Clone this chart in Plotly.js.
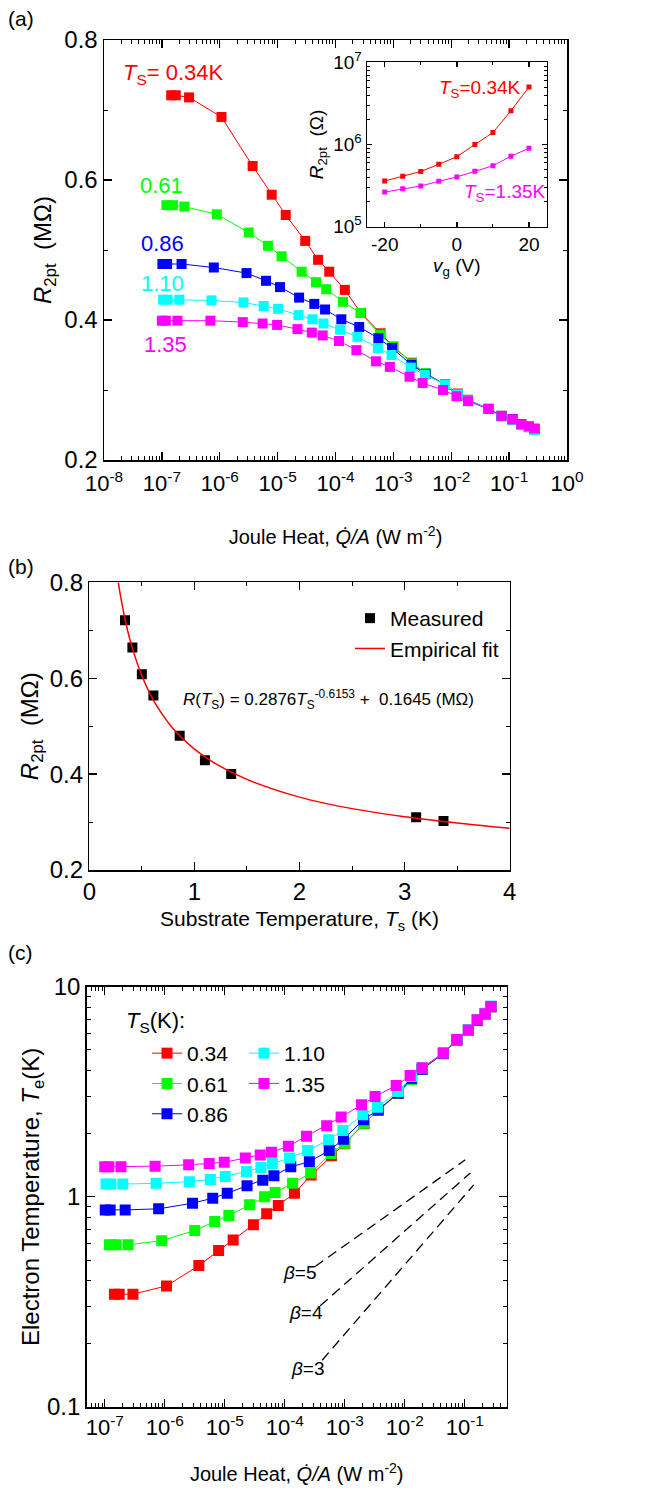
<!DOCTYPE html>
<html><head><meta charset="utf-8">
<script src="https://cdn.plot.ly/plotly-3.0.1.min.js"></script>
<style>html,body{margin:0;padding:0;background:#fff}#chart{width:653px;height:1490px}</style>
</head><body><div id="chart"></div>
<script>
// ---------- data ----------
const seriesLabels = ['0.34', '0.61', '0.86', '1.10', '1.35'];
const seriesColors = ['#ff0000', '#00ff00', '#0000ff', '#00ffff', '#ff00ff'];

// Joule heat Q/A (W m^-2) for each substrate temperature
const qRed = [1.45e-7, 1.74e-7, 2.95e-7, 1.07e-6, 3.7e-6, 7.9e-6, 1.38e-5, 3.0e-5, 5.0e-5, 7.8e-5, 1.45e-4, 2.75e-4, 6.0e-4, 1.0e-3, 2.1e-3, 3.6e-3, 7.8e-3, 1.3e-2, 1.95e-2, 4.4e-2, 7.4e-2, 0.115, 0.162, 0.219, 0.275];
const qGreen = [1.2e-7, 1.55e-7, 2.45e-7, 8.9e-7, 3.16e-6, 6.8e-6, 1.17e-5, 2.6e-5, 4.6e-5, 6.9e-5, 1.35e-4, 2.7e-4, 5.9e-4, 1.0e-3, 2.1e-3, 3.6e-3, 7.8e-3, 1.3e-2, 1.95e-2, 4.4e-2, 7.4e-2, 0.115, 0.162, 0.219, 0.275];
const qBlue = [1.02e-7, 1.23e-7, 2.19e-7, 7.9e-7, 2.9e-6, 6.3e-6, 1.1e-5, 2.35e-5, 4.3e-5, 6.6e-5, 1.26e-4, 2.57e-4, 5.5e-4, 9.5e-4, 2.05e-3, 3.6e-3, 7.8e-3, 1.3e-2, 1.95e-2, 4.4e-2, 7.4e-2, 0.115, 0.162, 0.219, 0.275];
const qCyan = [1.05e-7, 1.26e-7, 2.0e-7, 7.2e-7, 2.57e-6, 5.75e-6, 1.02e-5, 2.3e-5, 4.0e-5, 6.2e-5, 1.2e-4, 2.4e-4, 5.4e-4, 9.3e-4, 2.0e-3, 3.5e-3, 7.8e-3, 1.3e-2, 1.95e-2, 4.4e-2, 7.4e-2, 0.115, 0.162, 0.219, 0.275];
const qMagenta = [1.0e-7, 1.17e-7, 1.86e-7, 6.9e-7, 2.5e-6, 5.5e-6, 9.8e-6, 2.2e-5, 3.9e-5, 6.0e-5, 1.15e-4, 2.3e-4, 5.0e-4, 8.7e-4, 1.9e-3, 3.2e-3, 7.2e-3, 1.23e-2, 1.95e-2, 4.4e-2, 7.4e-2, 0.115, 0.162, 0.219, 0.275];

// (a) two-point resistance (MOhm)
const rRed = [0.721, 0.721, 0.718, 0.690, 0.620, 0.579, 0.550, 0.513, 0.486, 0.469, 0.443, 0.410, 0.381, 0.362, 0.339, 0.323, 0.308, 0.295, 0.286, 0.273, 0.263, 0.258, 0.251, 0.248, 0.244];
const rGreen = [0.564, 0.564, 0.562, 0.551, 0.525, 0.506, 0.491, 0.469, 0.454, 0.444, 0.426, 0.410, 0.379, 0.362, 0.338, 0.324, 0.308, 0.294, 0.286, 0.273, 0.263, 0.257, 0.251, 0.247, 0.244];
const rBlue = [0.480, 0.480, 0.480, 0.475, 0.467, 0.456, 0.447, 0.432, 0.423, 0.415, 0.401, 0.390, 0.374, 0.360, 0.336, 0.323, 0.308, 0.292, 0.285, 0.273, 0.263, 0.258, 0.251, 0.247, 0.244];
const rCyan = [0.429, 0.429, 0.429, 0.428, 0.425, 0.420, 0.416, 0.407, 0.401, 0.395, 0.386, 0.376, 0.360, 0.350, 0.332, 0.322, 0.308, 0.293, 0.285, 0.273, 0.262, 0.257, 0.250, 0.247, 0.243];
const rMagenta = [0.399, 0.399, 0.399, 0.399, 0.397, 0.395, 0.393, 0.387, 0.382, 0.378, 0.370, 0.357, 0.341, 0.333, 0.319, 0.310, 0.300, 0.291, 0.284, 0.273, 0.263, 0.258, 0.251, 0.248, 0.245];

// (c) electron temperature (K)
const teRed = [0.344, 0.344, 0.344, 0.377, 0.471, 0.555, 0.624, 0.736, 0.830, 0.910, 1.04, 1.27, 1.57, 1.79, 2.23, 2.58, 3.10, 3.62, 4.05, 4.80, 5.55, 6.20, 6.90, 7.40, 8.00];
const teGreen = [0.591, 0.591, 0.591, 0.619, 0.691, 0.763, 0.815, 0.916, 1.00, 1.05, 1.16, 1.30, 1.61, 1.80, 2.24, 2.58, 3.12, 3.62, 4.05, 4.82, 5.58, 6.22, 6.92, 7.42, 8.02];
const teBlue = [0.867, 0.867, 0.867, 0.877, 0.933, 0.985, 1.04, 1.13, 1.20, 1.26, 1.39, 1.47, 1.66, 1.88, 2.33, 2.59, 3.12, 3.67, 4.05, 4.82, 5.60, 6.25, 6.95, 7.45, 8.05];
const teCyan = [1.15, 1.15, 1.15, 1.16, 1.18, 1.21, 1.25, 1.32, 1.38, 1.44, 1.53, 1.66, 1.87, 2.07, 2.46, 2.67, 3.17, 3.74, 4.10, 4.85, 5.62, 6.25, 6.98, 7.48, 8.10];
const teMagenta = [1.39, 1.39, 1.39, 1.40, 1.42, 1.44, 1.46, 1.53, 1.58, 1.63, 1.74, 1.94, 2.18, 2.40, 2.74, 3.00, 3.39, 3.78, 4.12, 4.83, 5.60, 6.23, 6.96, 7.44, 8.05];

// (a) inset: R2pt (Ohm) vs gate voltage (V)
const vGate = [-20, -15, -10, -5, 0, 5, 10, 15, 20];
const rInset034 = [3.6e5, 4.1e5, 4.7e5, 5.75e5, 7.1e5, 1.0e6, 1.4e6, 2.57e6, 5.0e6];
const rInset135 = [2.64e5, 2.9e5, 3.13e5, 3.57e5, 4.03e5, 4.72e5, 5.5e5, 7.2e5, 9.0e5];

// (b) measured R vs substrate temperature, and the empirical fit curve
const tsMeasured = [0.34, 0.41, 0.50, 0.61, 0.86, 1.10, 1.35, 3.11, 3.37];
const rMeasured = [0.721, 0.664, 0.608, 0.564, 0.480, 0.429, 0.400, 0.310, 0.302];
const tsFit = [0.276, 0.30, 0.35, 0.40, 0.50, 0.60, 0.70, 0.80, 1.0, 1.2, 1.5, 2.0, 2.5, 3.0, 3.5, 4.0];
const rFit = [0.800, 0.768, 0.713, 0.670, 0.605, 0.558, 0.523, 0.494, 0.452, 0.422, 0.389, 0.352, 0.328, 0.311, 0.298, 0.287];

// (c) guide lines for beta = 5, 4, 3 (end points)
const betaLabels = ['β=5', 'β=4', 'β=3'];
const betaQ = [[3.2e-4, 0.102], [3.9e-4, 0.124], [4.2e-4, 0.141]];
const betaT = [[0.466, 1.50], [0.303, 1.30], [0.167, 1.14]];

// tick labels
const tickQa = [1e-8, 1e-7, 1e-6, 1e-5, 1e-4, 1e-3, 1e-2, 1e-1, 1];
const tickQaText = ['10<sup>-8</sup>', '10<sup>-7</sup>', '10<sup>-6</sup>', '10<sup>-5</sup>', '10<sup>-4</sup>', '10<sup>-3</sup>', '10<sup>-2</sup>', '10<sup>-1</sup>', '10<sup>0</sup>'];
const tickQc = [1e-7, 1e-6, 1e-5, 1e-4, 1e-3, 1e-2, 1e-1];
const tickQcText = ['10<sup>-7</sup>', '10<sup>-6</sup>', '10<sup>-5</sup>', '10<sup>-4</sup>', '10<sup>-3</sup>', '10<sup>-2</sup>', '10<sup>-1</sup>'];
const tickTe = [0.1, 1, 10];
const tickTeText = ['0.1', '1', '10'];
const tickInsetR = [1e5, 1e6, 1e7];
const tickInsetRText = ['10<sup>5</sup>', '10<sup>6</sup>', '10<sup>7</sup>'];

// ---------- figure ----------
const W = 653, H = 1490;
const F = 'Liberation Sans, Arial, sans-serif';
const px = (x) => x / W;
const py = (y) => 1 - y / H;

const qSets = [qRed, qGreen, qBlue, qCyan, qMagenta];
const rSets = [rRed, rGreen, rBlue, rCyan, rMagenta];
const teSets = [teRed, teGreen, teBlue, teCyan, teMagenta];

function logMinor(d0, d1) {
  const v = [];
  for (let d = d0; d < d1; d++) for (let k = 2; k < 10; k++) v.push(k * Math.pow(10, d));
  return v;
}

const traces = [];
for (let i = 0; i < 5; i++) {
  traces.push({
    x: qSets[i], y: rSets[i], xaxis: 'x', yaxis: 'y', type: 'scatter', mode: 'lines+markers',
    line: {color: seriesColors[i], width: 1}, marker: {symbol: 'square', size: 10, color: seriesColors[i]},
    showlegend: false, name: seriesLabels[i]
  });
}
traces.push({x: vGate, y: rInset034, xaxis: 'x4', yaxis: 'y4', type: 'scatter', mode: 'lines+markers',
  line: {color: '#ff0000', width: 1}, marker: {symbol: 'square', size: 5, color: '#ff0000'}, showlegend: false});
traces.push({x: vGate, y: rInset135, xaxis: 'x4', yaxis: 'y4', type: 'scatter', mode: 'lines+markers',
  line: {color: '#ff00ff', width: 1}, marker: {symbol: 'square', size: 5, color: '#ff00ff'}, showlegend: false});

traces.push({x: tsMeasured, y: rMeasured, xaxis: 'x2', yaxis: 'y2', type: 'scatter', mode: 'markers',
  marker: {symbol: 'square', size: 10, color: '#000'}, name: 'Measured', legend: 'legend'});
traces.push({x: tsFit, y: rFit, xaxis: 'x2', yaxis: 'y2', type: 'scatter', mode: 'lines',
  line: {color: '#ff0000', width: 1.5, shape: 'spline'}, name: 'Empirical fit', legend: 'legend'});

for (let i = 0; i < 5; i++) {
  traces.push({
    x: qSets[i], y: teSets[i], xaxis: 'x3', yaxis: 'y3', type: 'scatter', mode: 'lines+markers',
    line: {color: seriesColors[i], width: 1}, marker: {symbol: 'square', size: 11, color: seriesColors[i]},
    name: seriesLabels[i], legend: i < 3 ? 'legend2' : 'legend3'
  });
}
for (let i = 0; i < 3; i++) {
  traces.push({x: betaQ[i], y: betaT[i], xaxis: 'x3', yaxis: 'y3', type: 'scatter', mode: 'lines',
    line: {color: '#000', width: 1.3, dash: '10px,6px'}, showlegend: false});
}

const minorStyle = {ticks: 'inside', ticklen: 4, tickwidth: 1, tickcolor: '#000', showgrid: false};
function ax(extra) {
  return Object.assign({
    showline: true, linecolor: '#000', linewidth: 1.5, mirror: 'ticks', ticks: 'inside',
    ticklen: 8, tickwidth: 1.3, tickcolor: '#000', showgrid: false, zeroline: false,
    tickfont: {family: F, size: 24, color: '#000'}
  }, extra);
}
const NB = '\u00a0';

const layout = {
  width: W, height: H, margin: {l: 0, r: 0, t: 0, b: 0},
  paper_bgcolor: '#fff', plot_bgcolor: 'rgba(0,0,0,0)',
  font: {family: F, color: '#000'},
  // (a)
  xaxis: ax({domain: [px(104), px(567)], anchor: 'y', type: 'log', range: [-8, 0],
    tickmode: 'array', tickvals: tickQa, ticktext: tickQaText, tickfont: {family: F, size: 22, color: '#000'},
    ticklabelstandoff: 3,
    minor: Object.assign({tickmode: 'array', tickvals: logMinor(-8, 0)}, minorStyle),
    title: {text: 'Joule Heat, <i>Q\u0307/A</i> (W m<sup>-2</sup>)', font: {family: F, size: 20}, standoff: 35}}),
  yaxis: ax({domain: [py(460), py(40)], anchor: 'x', range: [0.2, 0.8], tickmode: 'linear', tick0: 0, dtick: 0.2,
    minor: Object.assign({dtick: 0.1, tick0: 0}, minorStyle),
    title: {text: '<i>R</i><sub>2pt</sub>' + NB + NB + '(MΩ)', font: {family: F, size: 24}, standoff: 6}}),
  // inset
  xaxis4: ax({domain: [px(366.7), px(547)], anchor: 'y4', range: [-25, 25], tickmode: 'array', tickvals: [-20, 0, 20],
    ticktext: ['-20', '0', '20'], ticklen: 5, tickfont: {family: F, size: 19, color: '#000'}, linewidth: 1.2,
    minor: Object.assign({tickmode: 'array', tickvals: [-10, 10]}, minorStyle, {ticklen: 3}),
    title: {text: '<i>v</i><sub>g</sub> (V)', font: {family: F, size: 19}, standoff: 4}}),
  yaxis4: ax({domain: [py(226.7), py(62.3)], anchor: 'x4', type: 'log', range: [5, 7], tickmode: 'array',
    tickvals: tickInsetR, ticktext: tickInsetRText, ticklen: 5, tickfont: {family: F, size: 19, color: '#000'}, linewidth: 1.2,
    minor: Object.assign({tickmode: 'array', tickvals: logMinor(5, 7)}, minorStyle, {ticklen: 3}),
    title: {text: '<i>R</i><sub>2pt</sub>' + NB + NB + '(Ω)', font: {family: F, size: 19}, standoff: 4}}),
  // (b)
  xaxis2: ax({domain: [px(89.3), px(509.7)], anchor: 'y2', range: [0, 4], tickmode: 'linear', tick0: 0, dtick: 1,
    minor: Object.assign({dtick: 0.5, tick0: 0}, minorStyle),
    title: {text: 'Substrate Temperature, <i>T</i><sub>s</sub> (K)', font: {family: F, size: 21}, standoff: 7}}),
  yaxis2: ax({domain: [py(870), py(582.3)], anchor: 'x2', range: [0.2, 0.8], tickmode: 'linear', tick0: 0, dtick: 0.2,
    minor: Object.assign({dtick: 0.1, tick0: 0}, minorStyle),
    title: {text: '<i>R</i><sub>2pt</sub>' + NB + NB + '(MΩ)', font: {family: F, size: 24}, standoff: 4}}),
  // (c)
  xaxis3: ax({domain: [px(86.7), px(506.7)], anchor: 'y3', type: 'log', range: [Math.log10(5e-8), Math.log10(0.5)],
    tickmode: 'array', tickvals: tickQc, ticktext: tickQcText, tickfont: {family: F, size: 22, color: '#000'},
    minor: Object.assign({tickmode: 'array', tickvals: logMinor(-8, 0)}, minorStyle),
    title: {text: 'Joule Heat, <i>Q\u0307/A</i> (W m<sup>-2</sup>)', font: {family: F, size: 20}, standoff: 28}}),
  yaxis3: ax({domain: [py(1407), py(986.7)], anchor: 'x3', type: 'log', range: [-1, 1],
    tickmode: 'array', tickvals: tickTe, ticktext: tickTeText,
    minor: Object.assign({tickmode: 'array', tickvals: logMinor(-1, 1)}, minorStyle),
    title: {text: 'Electron Temperature, <i>T</i><sub>e</sub>(K)', font: {family: F, size: 24}, standoff: 0}}),
  legend: {x: px(350), y: py(598), xanchor: 'left', yanchor: 'top', bgcolor: 'rgba(0,0,0,0)',
    font: {family: F, size: 21, color: '#000'}, itemclick: false, itemdoubleclick: false},
  legend2: {x: px(147), y: py(1033), xanchor: 'left', yanchor: 'top', bgcolor: 'rgba(0,0,0,0)',
    font: {family: F, size: 21, color: '#000'}, itemclick: false, itemdoubleclick: false},
  legend3: {x: px(244), y: py(1033), xanchor: 'left', yanchor: 'top', bgcolor: 'rgba(0,0,0,0)',
    font: {family: F, size: 21, color: '#000'}, itemclick: false, itemdoubleclick: false},
  annotations: []
};

function note(text, x, y, size, color, extra) {
  layout.annotations.push(Object.assign({
    text: text, xref: 'paper', yref: 'paper', x: px(x), y: py(y), xanchor: 'left', yanchor: 'middle',
    showarrow: false, font: {family: F, size: size, color: color || '#000'}
  }, extra || {}));
}
note('(a)', 6, 19, 21);
note('(b)', 6, 566, 21);
note('(c)', 6, 952, 21);
note('<i>T</i><sub>S</sub>= 0.34K', 121, 74, 22, seriesColors[0]);
note(seriesLabels[1], 138, 186, 22, seriesColors[1]);
note(seriesLabels[2], 139, 243, 22, seriesColors[2]);
note(seriesLabels[3], 139, 283, 22, seriesColors[3]);
note(seriesLabels[4], 142, 345, 22, seriesColors[4]);
note('<i>T</i><sub>S</sub>=0.34K', 437, 89, 19, '#ff0000');
note('<i>T</i><sub>S</sub>=1.35K', 462, 193, 19, '#ff00ff');
note('<i>R</i>(<i>T</i><sub>S</sub>) = 0.2876<i>T</i><sub>S</sub><sup>-0.6153</sup> +  0.1645 (MΩ)', 181, 699, 17);
note('<i>T</i><sub>S</sub>(K):', 124, 1022, 22);
note('<i>β</i>=5', 281, 1272, 19);
note('<i>β</i>=4', 287, 1312, 19);
note('<i>β</i>=3', 289, 1368, 19);

Plotly.newPlot('chart', traces, layout, {staticPlot: true});
</script>
</body></html>
